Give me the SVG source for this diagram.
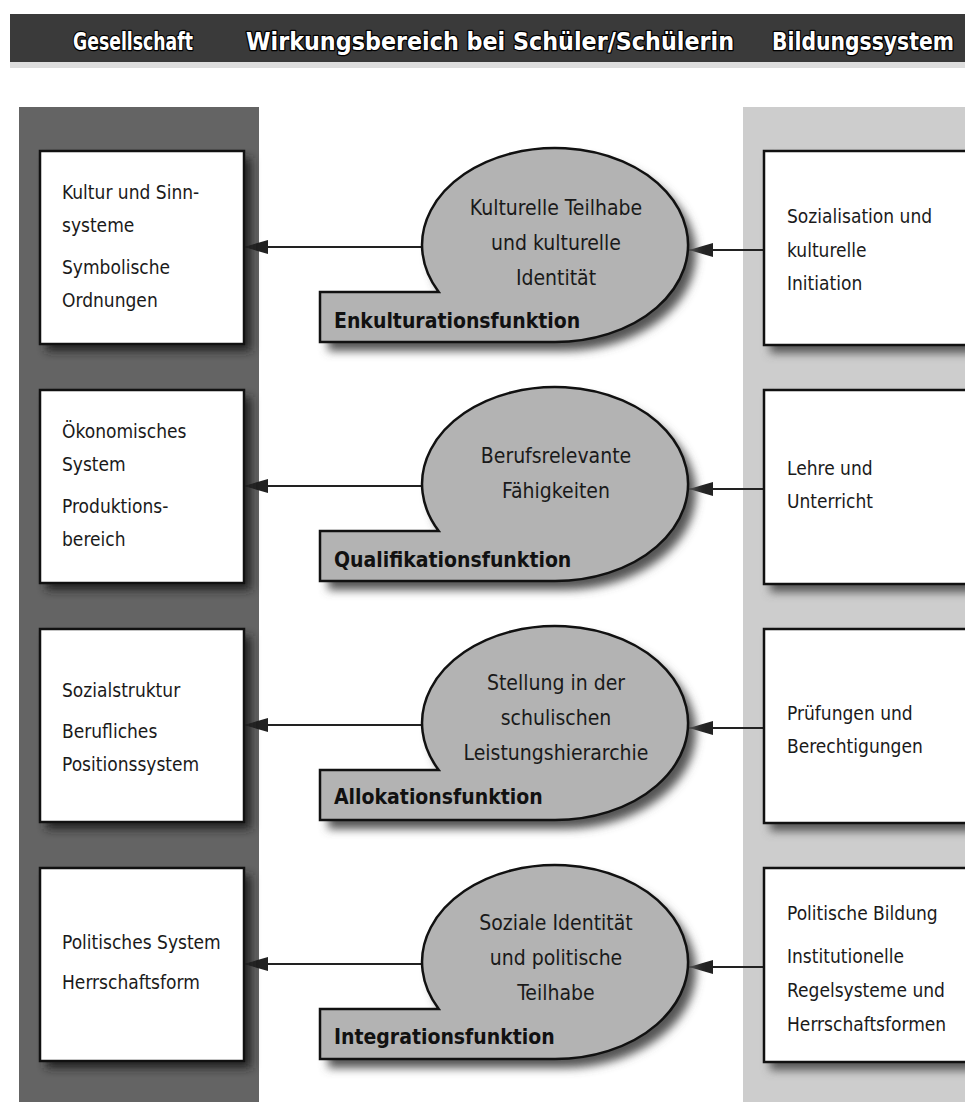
<svg xmlns="http://www.w3.org/2000/svg" width="965" height="1102" viewBox="0 0 965 1102">
<defs>
<style>
.t{font-family:"DejaVu Sans Condensed","Liberation Sans Narrow","Liberation Sans",sans-serif;font-size:19px;fill:#1a1a1a}
.b{font-family:"DejaVu Sans Condensed","Liberation Sans Narrow","Liberation Sans",sans-serif;font-size:21px;fill:#1a1a1a;text-anchor:middle}
.g{font-family:"DejaVu Sans Condensed","Liberation Sans Narrow","Liberation Sans",sans-serif;font-size:21px;font-weight:bold;fill:#111}
.h{font-family:"DejaVu Sans Condensed","Liberation Sans Narrow","Liberation Sans",sans-serif;font-size:24px;font-weight:bold;fill:#fff;stroke:#000;stroke-width:2.5px;paint-order:stroke;stroke-linejoin:round}
.box{fill:#fff;stroke:#111;stroke-width:2.5}
.bub{fill:#b3b3b3;stroke:#111;stroke-width:2.5}
.con{stroke:#222;stroke-width:2;fill:none}
</style>
<filter id="sh" x="-20%" y="-20%" width="140%" height="140%"><feGaussianBlur stdDeviation="5"/></filter>
<marker id="ah" markerUnits="userSpaceOnUse" markerWidth="26" markerHeight="16" refX="24" refY="7" orient="auto"><path d="M0,0 L24,7 L0,14 Z" fill="#222"/></marker>
<path id="bshape" d="M320,292 L438.7,292 A133,97 0 1 1 555,342 L320,342 Z"/>
</defs>
<rect width="965" height="1102" fill="#fff"/>
<g id="header">
<rect x="10" y="14" width="955" height="48" fill="#3a3a3a"/>
<rect x="10" y="62" width="955" height="6" fill="#ddd"/>
<text class="h" x="133" y="50" text-anchor="middle" textLength="120" lengthAdjust="spacingAndGlyphs">Gesellschaft</text>
<text class="h" x="490" y="50" text-anchor="middle" textLength="488" lengthAdjust="spacingAndGlyphs">Wirkungsbereich bei Schüler/Schülerin</text>
<text class="h" x="954" y="50" text-anchor="end" textLength="182" lengthAdjust="spacingAndGlyphs">Bildungssystem</text>
</g>
<g id="panels">
<rect x="19" y="107" width="240" height="995" fill="#646464"/>
<rect x="743" y="107" width="222" height="995" fill="#cdcdcd"/>
</g>
<g id="connectors">
<line class="con" x1="422" y1="247" x2="244" y2="247" marker-end="url(#ah)"/>
<line class="con" x1="765" y1="250" x2="689" y2="250" marker-end="url(#ah)"/>
<line class="con" x1="422" y1="486" x2="244" y2="486" marker-end="url(#ah)"/>
<line class="con" x1="765" y1="489" x2="689" y2="489" marker-end="url(#ah)"/>
<line class="con" x1="422" y1="725" x2="244" y2="725" marker-end="url(#ah)"/>
<line class="con" x1="765" y1="728" x2="689" y2="728" marker-end="url(#ah)"/>
<line class="con" x1="422" y1="964" x2="244" y2="964" marker-end="url(#ah)"/>
<line class="con" x1="765" y1="967" x2="689" y2="967" marker-end="url(#ah)"/>
</g>
<g id="left1">
<rect x="46" y="158" width="205" height="193" fill="#222" filter="url(#sh)"/>
<rect class="box" x="40" y="151" width="204" height="193"/>
<text class="t" x="62" y="199">Kultur und Sinn-</text>
<text class="t" x="62" y="232">systeme</text>
<text class="t" x="62" y="274">Symbolische</text>
<text class="t" x="62" y="307">Ordnungen</text>
</g>
<g id="left2">
<rect x="46" y="397" width="205" height="193" fill="#222" filter="url(#sh)"/>
<rect class="box" x="40" y="390" width="204" height="193"/>
<text class="t" x="62" y="438">Ökonomisches</text>
<text class="t" x="62" y="471">System</text>
<text class="t" x="62" y="513">Produktions-</text>
<text class="t" x="62" y="546">bereich</text>
</g>
<g id="left3">
<rect x="46" y="636" width="205" height="193" fill="#222" filter="url(#sh)"/>
<rect class="box" x="40" y="629" width="204" height="193"/>
<text class="t" x="62" y="697">Sozialstruktur</text>
<text class="t" x="62" y="738">Berufliches</text>
<text class="t" x="62" y="771">Positionssystem</text>
</g>
<g id="left4">
<rect x="46" y="875" width="205" height="193" fill="#222" filter="url(#sh)"/>
<rect class="box" x="40" y="868" width="204" height="193"/>
<text class="t" x="62" y="949">Politisches System</text>
<text class="t" x="62" y="989">Herrschaftsform</text>
</g>
<g id="right1">
<rect x="770" y="158" width="210" height="195" fill="#555" filter="url(#sh)"/>
<rect class="box" x="764" y="151" width="210" height="194"/>
<text class="t" x="787" y="223">Sozialisation und</text>
<text class="t" x="787" y="257">kulturelle</text>
<text class="t" x="787" y="290">Initiation</text>
</g>
<g id="right2">
<rect x="770" y="397" width="210" height="195" fill="#555" filter="url(#sh)"/>
<rect class="box" x="764" y="390" width="210" height="194"/>
<text class="t" x="787" y="475">Lehre und</text>
<text class="t" x="787" y="508">Unterricht</text>
</g>
<g id="right3">
<rect x="770" y="636" width="210" height="195" fill="#555" filter="url(#sh)"/>
<rect class="box" x="764" y="629" width="210" height="194"/>
<text class="t" x="787" y="720">Prüfungen und</text>
<text class="t" x="787" y="753">Berechtigungen</text>
</g>
<g id="right4">
<rect x="770" y="875" width="210" height="195" fill="#555" filter="url(#sh)"/>
<rect class="box" x="764" y="868" width="210" height="194"/>
<text class="t" x="787" y="920">Politische Bildung</text>
<text class="t" x="787" y="963">Institutionelle</text>
<text class="t" x="787" y="997">Regelsysteme und</text>
<text class="t" x="787" y="1031">Herrschaftsformen</text>
</g>
<g id="bubble1">
<use href="#bshape" x="8" y="9" fill="#555" filter="url(#sh)"/>
<use href="#bshape" class="bub"/>
<text class="b" x="556" y="215">Kulturelle Teilhabe</text>
<text class="b" x="556" y="250">und kulturelle</text>
<text class="b" x="556" y="285">Identität</text>
<text class="g" x="334" y="328">Enkulturationsfunktion</text>
</g>
<g id="bubble2" transform="translate(0,239)">
<use href="#bshape" x="8" y="9" fill="#555" filter="url(#sh)"/>
<use href="#bshape" class="bub"/>
<text class="b" x="556" y="224">Berufsrelevante</text>
<text class="b" x="556" y="259">Fähigkeiten</text>
<text class="g" x="334" y="328">Qualifikationsfunktion</text>
</g>
<g id="bubble3" transform="translate(0,478)">
<use href="#bshape" x="8" y="9" fill="#555" filter="url(#sh)"/>
<use href="#bshape" class="bub"/>
<text class="b" x="556" y="212">Stellung in der</text>
<text class="b" x="556" y="247">schulischen</text>
<text class="b" x="556" y="282">Leistungshierarchie</text>
<text class="g" x="334" y="326">Allokationsfunktion</text>
</g>
<g id="bubble4" transform="translate(0,717)">
<use href="#bshape" x="8" y="9" fill="#555" filter="url(#sh)"/>
<use href="#bshape" class="bub"/>
<text class="b" x="556" y="213">Soziale Identität</text>
<text class="b" x="556" y="248">und politische</text>
<text class="b" x="556" y="283">Teilhabe</text>
<text class="g" x="334" y="327">Integrationsfunktion</text>
</g>
</svg>
